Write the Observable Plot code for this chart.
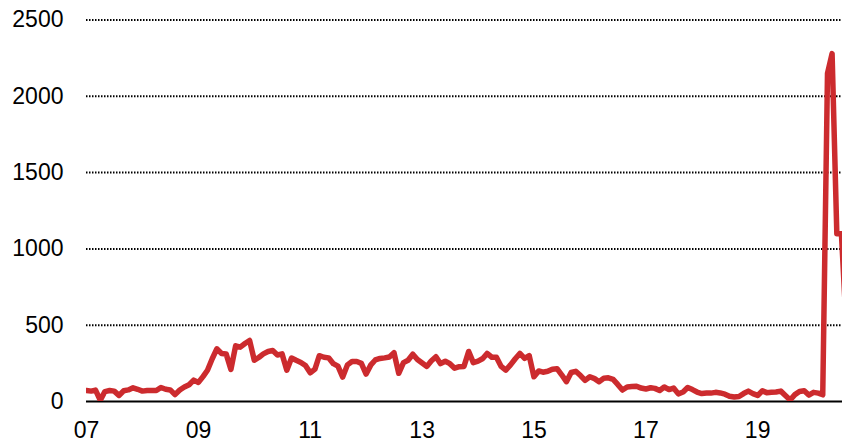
<!DOCTYPE html>
<html>
<head>
<meta charset="utf-8">
<script src="https://cdn.jsdelivr.net/npm/d3@7"></script>
<script src="https://cdn.jsdelivr.net/npm/@observablehq/plot@0.6"></script>
<style>
  html, body { margin: 0; padding: 0; background: #fff; }
  #chart svg { display: block; }
</style>
</head>
<body>
<div id="chart"></div>
<script>
// Monthly series starting January 2007
const startYear = 2007;
const values = [
  72, 68, 75, 8, 65, 72, 68, 40, 70, 76,
  90, 80, 68, 72, 72, 72, 92, 80, 76, 45,
  75, 95, 110, 140, 125, 165, 205, 280, 345, 315,
  312, 210, 365, 356, 380, 400, 270, 290, 312, 328,
  334, 305, 312, 205, 285, 270, 256, 236, 188, 212,
  300, 290, 286, 248, 232, 160, 240, 262, 262, 250,
  180, 240, 272, 282, 286, 292, 320, 185, 255, 270,
  310, 275, 252, 230, 265, 293, 248, 264, 248, 218,
  228, 230, 328, 255, 265, 282, 315, 290, 290, 230,
  205, 240, 280, 315, 283, 300, 162, 200, 192, 198,
  212, 215, 175, 130, 190, 198, 170, 138, 162, 150,
  130, 152, 155, 145, 112, 75, 95, 98, 100, 88,
  82, 90, 86, 72, 95, 78, 88, 50, 62, 92,
  78, 62, 52, 55, 55, 60, 56, 48, 34, 29,
  33, 52, 68, 52, 40, 70, 58, 61, 62, 68,
  40, 10, 45, 65, 70, 42, 60, 55, 44, 2150,
  2280, 1099, 1099, 500
];
const tickYears = [2007, 2009, 2011, 2013, 2015, 2017, 2019];
const tickLabels = ["07", "09", "11", "13", "15", "17", "19"];
const yTicks = [0, 500, 1000, 1500, 2000, 2500];
const gridValues = [500, 1000, 1500, 2000, 2500];

const data = values.map((v, i) => ({
  date: new Date(Date.UTC(startYear + Math.floor(i / 12), i % 12, 1)),
  value: v
}));
const tickDates = tickYears.map(y => new Date(Date.UTC(y, 0, 1)));
const labelOf = new Map(tickDates.map((d, i) => [+d, tickLabels[i]]));

const chart = Plot.plot({
  width: 842,
  height: 443,
  marginLeft: 86,
  marginRight: 0,
  marginTop: 19.5,
  marginBottom: 42,
  style: { fontFamily: "'Liberation Sans', Arial, Helvetica, sans-serif", fontSize: "23px", color: "#000", background: "#fff" },
  x: { type: "utc", domain: [new Date(Date.UTC(2007, 0, 1)), new Date(Date.UTC(2020, 6, 8))], label: null },
  y: { domain: [0, 2500], label: null },
  marks: [
    Plot.ruleY(gridValues, { stroke: "#000", strokeWidth: 2, strokeDasharray: "1.5,1.5" }),
    Plot.ruleY([0], { stroke: "#000", strokeWidth: 2 }),
    Plot.axisY({ ticks: yTicks, tickFormat: d => String(d), tickSize: 0, tickPadding: 23, fontSize: 23, label: null }),
    Plot.axisX({ ticks: tickDates, tickFormat: d => labelOf.get(+d), tickSize: 0, tickPadding: 20, fontSize: 23, label: null }),
    Plot.line(data, { x: "date", y: "value", stroke: "#cc2b2e", strokeWidth: 5.5, strokeLinejoin: "round", strokeLinecap: "round", clip: true })
  ]
});
document.getElementById("chart").appendChild(chart);
</script>
</body>
</html>
